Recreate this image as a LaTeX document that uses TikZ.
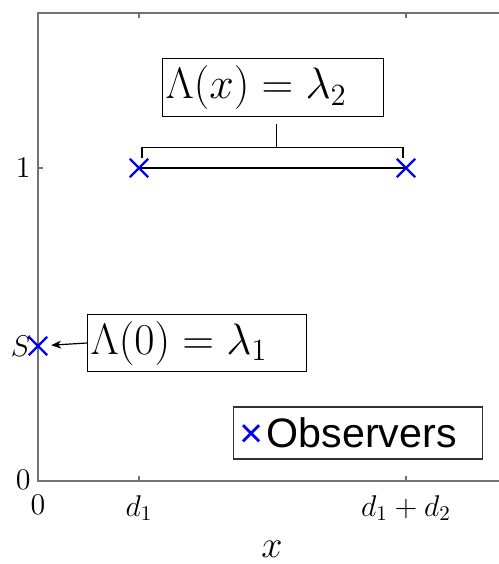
\RequirePackage{fix-cm}
\documentclass[tikz,border=0pt]{standalone}
\usepackage{fontspec}
\newfontfamily\legendfont{Liberation Sans}
\usetikzlibrary{arrows.meta,shapes.misc,calc}
\definecolor{axisgray}{gray}{0.45}
\begin{document}
\begin{tikzpicture}[x=0.5pt, y=-0.5pt,
  axisline/.style={draw=axisgray, line width=0.75pt},
  ticklab/.style={font=\fontsize{15}{17}\selectfont, inner sep=0pt},
  obsmark/.style={cross out, draw=blue, line width=1.2pt, minimum size=8pt, inner sep=0pt},
  labelbox/.style={draw=black, line width=0.6pt, anchor=west, inner xsep=1.5pt,
    minimum height=28.5pt, font=\fontsize{22}{26}\selectfont}]
  % Frame
  \useasboundingbox (0,0) rectangle (499,564);
  % Axes
  \draw[axisline] (499,13) -- (38,13) -- (38,481) -- (499,481);
  % Ticks
  \foreach \tx in {139, 406} {
    \draw[axisline] (\tx,481) -- (\tx,476);
    \draw[axisline] (\tx,13) -- (\tx,18);
  }
  \draw[axisline] (38,168) -- (43,168);
  % Tick labels
  \node[ticklab, anchor=east] (ylab0) at (31,480) {$0$};
  \node[ticklab, anchor=east] (ylabS) at (31,346) {$S$};
  \node[ticklab, anchor=east] (ylab1) at (31,168) {$1$};
  \node[ticklab, anchor=north] (xlab0) at (38,495) {$0$};
  \node[ticklab, anchor=north] (xlabA) at (139,495) {$d_1$};
  \node[ticklab, anchor=north] (xlabB) at (406,495) {$d_1+d_2$};
  \node[font=\fontsize{19}{22}\selectfont, anchor=base, inner sep=0pt] (xname) at (272,557) {$x$};
  % Observers
  \node[obsmark] (src) at (38,346) {};
  \node[obsmark] (obsA) at (139,168) {};
  \node[obsmark] (obsB) at (406,168) {};
  \draw[line width=1pt] (obsA.center) -- (obsB.center);
  % Rate labels
  \node[labelbox, text width=107.5pt] (lamx) at (162,87.5) {$\Lambda(x) = \lambda_2$};
  \node[labelbox, text width=106.5pt, minimum height=28pt] (lamzero) at (87,343) {$\Lambda(0) = \lambda_1$};
  % Bracket over the interval
  \coordinate (brkL) at ($(obsA)+(3,-10)$);
  \coordinate (brkR) at ($(obsB)+(-3,-10)$);
  \coordinate (brkTop) at ($(lamx.south)+(3,31)$);
  \draw[line width=0.6pt] (brkL) |- (brkTop) -| (brkR);
  \draw[line width=0.6pt] (brkTop) -- ($(lamx.south)+(3,7)$);
  % Arrow to the source
  \draw[-{Stealth[length=5pt,width=4pt]}, line width=0.6pt, shorten >=2pt] (lamzero.west) -- (src);
  % Legend
  \node[draw=black!80, line width=0.6pt, anchor=west, text width=118.5pt, inner xsep=3pt,
    minimum height=26pt, font=\legendfont\fontsize{20.6}{24}\selectfont] (legend) at (233,433)
    {\textcolor{blue}{×}\hspace{1.5pt}Observers};
\end{tikzpicture}
\end{document}
